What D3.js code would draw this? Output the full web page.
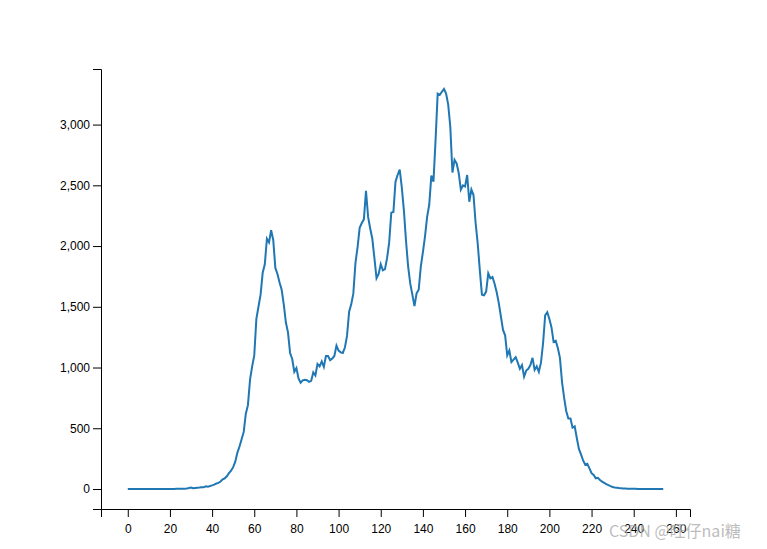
<!DOCTYPE html>
<html>
<head>
<meta charset="utf-8">
<script src="https://cdn.jsdelivr.net/npm/d3@7"></script>
<style>
  html, body { margin: 0; padding: 0; background: #fff; }
  svg { display: block; }
  .axis text { font-family: "Liberation Sans", Arial, sans-serif; font-size: 12px; fill: #000; }
  .axis path, .axis line { stroke: #000; }
</style>
</head>
<body>
<svg id="chart" width="767" height="549"></svg>
<script>
// histogram counts for bins 0..254
const counts = [
  0,0,0,0,0,0,0,0,0,0,
  0,0,0,0,0,0,0,0,0,0,
  1,1,1,2,2,2,3,3,5,8,
  12,6,8,10,12,15,14,22,18,25,
  30,36,45,50,62,80,88,105,130,150,
  180,225,300,350,410,470,620,690,900,1010,
  1100,1400,1500,1600,1780,1850,2060,2030,2130,2050,
  1820,1770,1700,1640,1520,1370,1290,1120,1070,965,
  995,910,875,895,900,895,882,890,960,935,
  1030,1010,1050,1005,1095,1095,1060,1075,1095,1180,
  1140,1125,1120,1165,1260,1460,1520,1610,1860,1990,
  2150,2190,2220,2455,2240,2145,2060,1900,1735,1770,
  1850,1800,1810,1900,2030,2275,2280,2530,2585,2630,
  2480,2290,2040,1830,1690,1600,1505,1610,1640,1830,
  1950,2080,2240,2340,2580,2530,2870,3255,3245,3270,
  3293,3255,3165,2980,2605,2710,2680,2600,2465,2500,
  2490,2585,2365,2465,2420,2190,2020,1800,1600,1595,
  1625,1775,1735,1745,1690,1620,1530,1420,1310,1265,
  1100,1140,1045,1065,1085,1040,990,1020,925,975,
  990,1020,1080,980,1010,965,1040,1200,1430,1455,
  1400,1330,1210,1220,1160,1080,880,750,640,580,
  580,505,515,420,330,285,235,200,208,170,
  130,115,88,92,75,60,50,40,32,24,
  17,12,10,8,7,5,4,3,3,2,
  2,2,1,1,1,1,0,0,0,0,
  0,0,0,0,0
];
const bins = counts.map((_, i) => i);
const xTicks = [0,20,40,60,80,100,120,140,160,180,200,220,240,260];
const yTicks = [0,500,1000,1500,2000,2500,3000];
const watermark = "CSDN @旺仔nai糖";

const margin = {top: 69, right: 77, bottom: 40, left: 101};
const W = 767, H = 549;
const width = W - margin.left - margin.right;
const height = H - margin.top - margin.bottom;

const svg = d3.select("#chart");
const g = svg.append("g").attr("transform", `translate(${margin.left},${margin.top})`);

const data = bins.map((b, i) => ({x: b, y: counts[i]}));
const xExt = d3.extent(bins), yExt = d3.extent(counts);
const xPad = (xExt[1] - xExt[0]) * 0.05, yPad = (yExt[1] - yExt[0]) * 0.05;

const x = d3.scaleLinear().domain([xExt[0] - xPad, xExt[1] + xPad]).range([0, width]);
const y = d3.scaleLinear().domain([yExt[0] - yPad, yExt[1] + yPad]).range([height, 0]);

const xAxis = g.append("g").attr("class", "axis")
  .attr("transform", `translate(0,${height})`)
  .call(d3.axisBottom(x).tickValues(xTicks).tickSize(8).tickSizeOuter(8).tickPadding(3));
xAxis.selectAll("text").attr("dy", "1.05em");

g.append("g").attr("class", "axis")
  .call(d3.axisLeft(y).tickValues(yTicks).tickSize(8).tickSizeOuter(8).tickPadding(3).tickFormat(d3.format(",")));

g.append("path")
  .datum(data)
  .attr("fill", "none")
  .attr("stroke", "#1f77b4")
  .attr("stroke-width", 2)
  .attr("d", d3.line().x(d => x(d.x)).y(d => y(d.y)));

svg.append("text")
  .attr("x", 609).attr("y", 537)
  .attr("font-family", "'Noto Sans CJK SC', 'Liberation Sans', sans-serif")
  .attr("font-size", 16)
  .attr("fill", "#b0b0b0")
  .attr("fill-opacity", 0.85)
  .text(watermark);
</script>
</body>
</html>
